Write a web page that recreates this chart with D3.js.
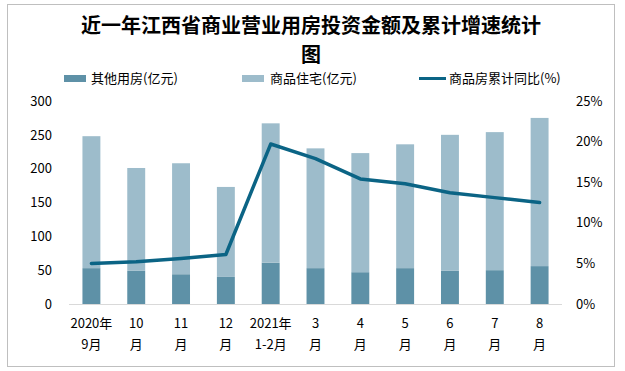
<!DOCTYPE html>
<html><head><meta charset="utf-8">
<script src="https://cdn.jsdelivr.net/npm/d3@7"></script>
<style>
body{margin:0;background:#fff;}
text{font-family:"Noto Sans CJK SC","Noto Sans",sans-serif;}
</style></head>
<body><svg id="chart" width="625" height="371"></svg>
<script>
const categories = [["2020年","9月"],["10","月"],["11","月"],["12","月"],["2021年","1-2月"],["3","月"],["4","月"],["5","月"],["6","月"],["7","月"],["8","月"]];
const otherValues = [53, 49, 44, 40, 61, 53, 47, 53, 49, 50, 56];
const residentialValues = [195, 152, 164, 133, 206, 177, 176, 183, 201, 204, 219];
const growthValues = [5.0, 5.2, 5.6, 6.1, 19.7, 17.9, 15.4, 14.8, 13.7, 13.1, 12.5];
const leftTicks = [0, 50, 100, 150, 200, 250, 300];
const rightTicks = [0, 5, 10, 15, 20, 25];
const seriesNames = ["其他用房(亿元)", "商品住宅(亿元)", "商品房累计同比(%)"];
const titleLines = ["近一年江西省商业营业用房投资金额及累计增速统计", "图"];

const colOther = "#5e91a7", colRes = "#9dbccb", colLine = "#0b6485";
const svg = d3.select("#chart");
svg.append("rect").attr("x",7.5).attr("y",4.5).attr("width",607).attr("height",362)
  .attr("fill","#fff").attr("stroke","#bfbfbf").attr("stroke-width",1);

const pLeft = 69, pRight = 562, pTop = 101, pBottom = 304;
const x = d3.scaleBand().domain(d3.range(categories.length)).range([pLeft,pRight]).paddingInner(0.6).paddingOuter(0.3);
const y = d3.scaleLinear().domain([0,300]).range([pBottom,pTop]);
const y2 = d3.scaleLinear().domain([0,25]).range([pBottom,pTop]);

// title
svg.selectAll(".title").data(titleLines).join("text").attr("class","title")
  .attr("x",311).attr("y",(d,i)=>33+i*29).attr("text-anchor","middle")
  .attr("font-size",20).attr("font-weight","bold").attr("fill","#000").text(d=>d);

// legend
const lg = svg.append("g").attr("font-size",13).attr("fill","#000");
lg.append("rect").attr("x",64).attr("y",75).attr("width",22).attr("height",7).attr("fill",colOther);
lg.append("text").attr("x",91).attr("y",83).text(seriesNames[0]);
lg.append("rect").attr("x",242).attr("y",75).attr("width",22).attr("height",7).attr("fill",colRes);
lg.append("text").attr("x",270).attr("y",83).text(seriesNames[1]);
lg.append("line").attr("x1",419).attr("x2",446).attr("y1",78.5).attr("y2",78.5).attr("stroke",colLine).attr("stroke-width",3);
lg.append("text").attr("x",449).attr("y",83).text(seriesNames[2]);

// bars
const g = svg.append("g");
g.selectAll(".o").data(otherValues).join("rect")
  .attr("x",(d,i)=>x(i)).attr("width",x.bandwidth())
  .attr("y",d=>y(d)).attr("height",d=>pBottom-y(d)).attr("fill",colOther);
g.selectAll(".r").data(residentialValues).join("rect")
  .attr("x",(d,i)=>x(i)).attr("width",x.bandwidth())
  .attr("y",(d,i)=>y(d+otherValues[i])).attr("height",(d,i)=>y(otherValues[i])-y(d+otherValues[i])).attr("fill",colRes);

// axis line
svg.append("line").attr("x1",pLeft).attr("x2",pRight).attr("y1",pBottom+0.5).attr("y2",pBottom+0.5).attr("stroke","#d9d9d9").attr("stroke-width",1);

// left axis
const la = svg.append("g").attr("transform",`translate(${pLeft},0)`)
  .call(d3.axisLeft(y).tickValues(leftTicks).tickSize(0).tickPadding(17));
la.select(".domain").remove();
la.selectAll("text").attr("font-size",13).attr("fill","#000").attr("font-family","\"Noto Sans\",sans-serif");

// right axis
const ra = svg.append("g").attr("transform",`translate(${pRight},0)`)
  .call(d3.axisRight(y2).tickValues(rightTicks).tickSize(0).tickPadding(14).tickFormat(d=>d+"%"));
ra.select(".domain").remove();
ra.selectAll("text").attr("font-size",13).attr("fill","#000").attr("font-family","\"Noto Sans\",sans-serif");

// x labels
const xl = svg.append("g").attr("font-size",13).attr("fill","#000").attr("text-anchor","middle");
categories.forEach((c,i)=>{
  const cx = x(i)+x.bandwidth()/2;
  xl.append("text").attr("x",cx).attr("y",328).text(c[0]);
  xl.append("text").attr("x",cx).attr("y",349).text(c[1]);
});

// line
const line = d3.line().x((d,i)=>x(i)+x.bandwidth()/2).y(d=>y2(d));
svg.append("path").datum(growthValues).attr("d",line).attr("fill","none")
  .attr("stroke",colLine).attr("stroke-width",3.5).attr("stroke-linejoin","round").attr("stroke-linecap","round");
</script></body></html>
